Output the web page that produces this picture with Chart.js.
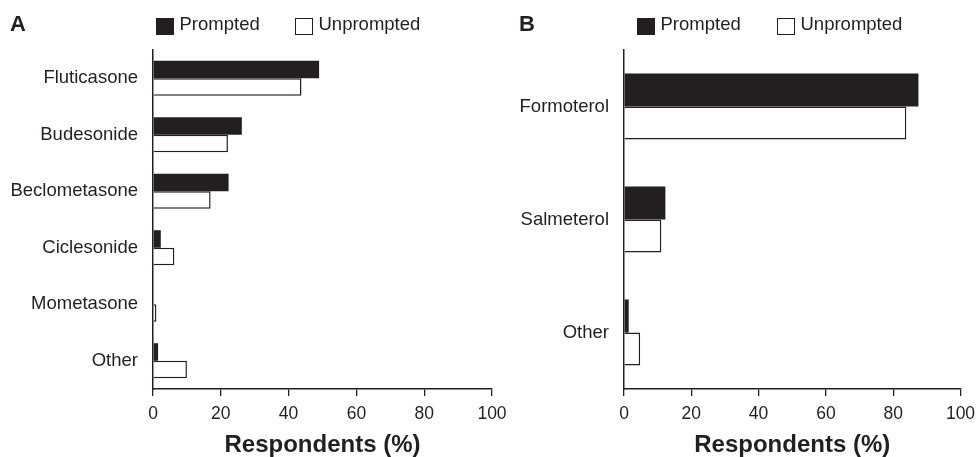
<!DOCTYPE html>
<html>
<head>
<meta charset="utf-8">
<script src="https://cdn.jsdelivr.net/npm/chart.js@4"></script>
<style>
  body { margin: 0; background: #fff; font-family: "Liberation Sans", Arial, sans-serif; color: #231f20; }
  #wrap { position: relative; width: 977px; height: 457px; overflow: hidden; }
  canvas { position: absolute; top: 0; }
  .txt { position: absolute; font-size: 18.5px; line-height: 18px; white-space: nowrap; }
  .panel { position: absolute; font-size: 22px; line-height: 22px; font-weight: bold; }
  .box { position: absolute; width: 18px; height: 17px; box-sizing: border-box; }
  .filled { background: #231f20; }
  .hollow { background: #fff; border: 1px solid #231f20; }
</style>
</head>
<body>
<div id="wrap">
  <canvas id="chartA" width="510" height="457" style="left:0"></canvas>
  <canvas id="chartB" width="487" height="457" style="left:490px"></canvas>

  <div class="panel" style="left:10px; top:13px">A</div>
  <div class="box filled" style="left:156px; top:18px"></div>
  <div class="txt" style="left:179.5px; top:15px">Prompted</div>
  <div class="box hollow" style="left:295px; top:18px"></div>
  <div class="txt" style="left:318.5px; top:15px">Unprompted</div>

  <div class="panel" style="left:519px; top:13px">B</div>
  <div class="box filled" style="left:637px; top:18px"></div>
  <div class="txt" style="left:660.5px; top:15px">Prompted</div>
  <div class="box hollow" style="left:777px; top:18px"></div>
  <div class="txt" style="left:800.5px; top:15px">Unprompted</div>
</div>
<script>
// panel A - inhaled corticosteroids
const drugsA = ['Fluticasone', 'Budesonide', 'Beclometasone', 'Ciclesonide', 'Mometasone', 'Other'];
const promptedA = [49, 26.2, 22.3, 2.3, 0, 1.5];
const unpromptedA = [43.8, 22.1, 17, 6.3, 1, 10];

// panel B - long-acting beta agonists
const drugsB = ['Formoterol', 'Salmeterol', 'Other'];
const promptedB = [87.5, 12.3, 1.4];
const unpromptedB = [83.9, 11.1, 4.8];

const xTicks = [0, 20, 40, 60, 80, 100];

const ink = '#231f20';
const font = 'Liberation Sans';

function makeConfig(labels, prompted, unprompted, yWidth, padRight, catPct) {
    return {
        type: 'bar',
        data: {
            labels: labels,
            datasets: [{
                label: 'Prompted',
                data: prompted,
                backgroundColor: ink,
                borderWidth: 0,
                categoryPercentage: catPct,
                barPercentage: 1
            }, {
                label: 'Unprompted',
                data: unprompted,
                backgroundColor: '#fff',
                borderColor: ink,
                borderWidth: 1.5,
                categoryPercentage: catPct,
                barPercentage: 1
            }]
        },
        options: {
            indexAxis: 'y',
            responsive: false,
            animation: false,
            layout: { padding: { top: 50, right: padRight, bottom: 0, left: 0 } },
            plugins: { legend: { display: false }, tooltip: { enabled: false } },
            scales: {
                x: {
                    min: 0,
                    max: 100,
                    afterBuildTicks: (scale) => { scale.ticks = xTicks.map(v => ({ value: v })); },
                    afterFit: (scale) => {
                        scale.height = 68;
                        scale.paddingLeft = 0;
                        scale.paddingRight = 0;
                    },
                    grid: { drawOnChartArea: false, color: ink, tickLength: 7, lineWidth: 1.3 },
                    border: { color: ink, width: 1.5 },
                    ticks: { color: ink, padding: 8, font: { family: font, size: 17.5 } },
                    title: {
                        display: true,
                        text: 'Respondents (%)',
                        color: ink,
                        padding: { top: 0, bottom: 0 },
                        font: { family: font, size: 24, weight: 'bold', lineHeight: 1.0 }
                    }
                },
                y: {
                    afterFit: (scale) => { scale.width = yWidth; },
                    grid: { display: false, drawTicks: false },
                    border: { color: ink, width: 1.5 },
                    ticks: { color: ink, padding: 15, font: { family: font, size: 18.5 } }
                }
            }
        }
    };
}

new Chart(document.getElementById('chartA'), makeConfig(drugsA, promptedA, unpromptedA, 153, 18, 0.62));
new Chart(document.getElementById('chartB'), makeConfig(drugsB, promptedB, unpromptedB, 134, 16.5, 0.585));
</script>
</body>
</html>
